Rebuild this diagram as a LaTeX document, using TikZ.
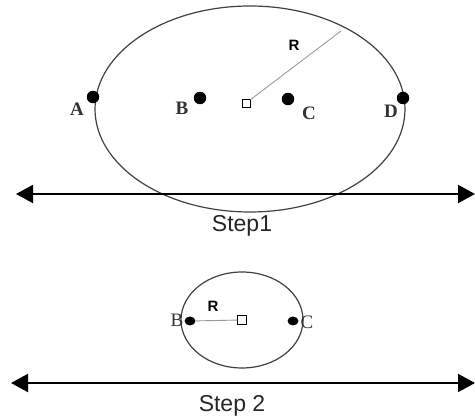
\documentclass[tikz,border=0pt]{standalone}
\usepackage{fontspec}
\setmainfont{Liberation Serif}
\setsansfont{Liberation Sans}
\usetikzlibrary{arrows.meta,shapes.geometric}
\begin{document}
\begin{tikzpicture}[x=1pt,y=-1pt,
  orbit/.style={draw=black!75,line width=1.2pt},
  dot/.style={circle,fill=black,inner sep=0pt,minimum size=12.5pt},
  smalldot/.style={ellipse,fill=black,inner sep=0pt,minimum width=11pt,minimum height=9pt},
  centre/.style={draw=black,line width=0.9pt,fill=white,inner sep=0pt,minimum size=8pt},
  radius/.style={draw=black!40,line width=0.9pt},
  axis/.style={line width=2pt,{Triangle[length=17pt,width=18pt]}-{Triangle[length=17pt,width=18pt]}},
  ptlabel/.style={font=\bfseries\fontsize{19}{21}\selectfont,text=black!80,inner sep=0pt},
  smalllabel/.style={font=\fontsize{19}{21}\selectfont,text=black!80,inner sep=0pt},
  rlabel/.style={font=\sffamily\bfseries\fontsize{15}{17}\selectfont,inner sep=0pt},
  steplabel/.style={font=\sffamily\fontsize{23}{25}\selectfont,text=black!85,inner sep=0pt}]
\useasboundingbox (0,0) rectangle (475,419);

% ---- first step: large circle ----
\draw[orbit] (250,109) ellipse [x radius=155, y radius=103];
\node[centre] (o1) at (246,103) {};
\coordinate (r1) at (341,31);
\draw[radius] (o1) -- (r1);
\node[rlabel] (R1) at (294,45) {R};
\node[dot] (a1) at (93,97) {};
\node[dot] (b1) at (200,98) {};
\node[dot] (c1) at (288,99) {};
\node[dot] (d1) at (403,98) {};
\node[ptlabel] (la1) at (77,109) {A};
\node[ptlabel] (lb1) at (182,108) {B};
\node[ptlabel] (lc1) at (309,113) {C};
\node[ptlabel] (ld1) at (391,111) {D};
\coordinate (l1) at (16,194);
\coordinate (e1) at (475,194);
\draw[axis] (l1) -- (e1);
\node[steplabel] (s1) at (242,226) {Step1};

% ---- second step: small circle ----
\draw[orbit] (242,320) ellipse [x radius=61, y radius=48];
\node[centre,minimum size=9pt] (o2) at (242,320) {};
\node[smalldot] (b2) at (190,321) {};
\node[smalldot] (c2) at (293,321) {};
\draw[radius] (b2) -- (o2);
\node[rlabel] (R2) at (213,306) {R};
\node[smalllabel] (lb2) at (177,320) {B};
\node[smalllabel] (lc2) at (307,322) {C};
\coordinate (l2) at (11,383);
\coordinate (e2) at (475,383);
\draw[axis] (l2) -- (e2);
\node[steplabel] (s2) at (232,406) {Step 2};
\end{tikzpicture}
\end{document}
